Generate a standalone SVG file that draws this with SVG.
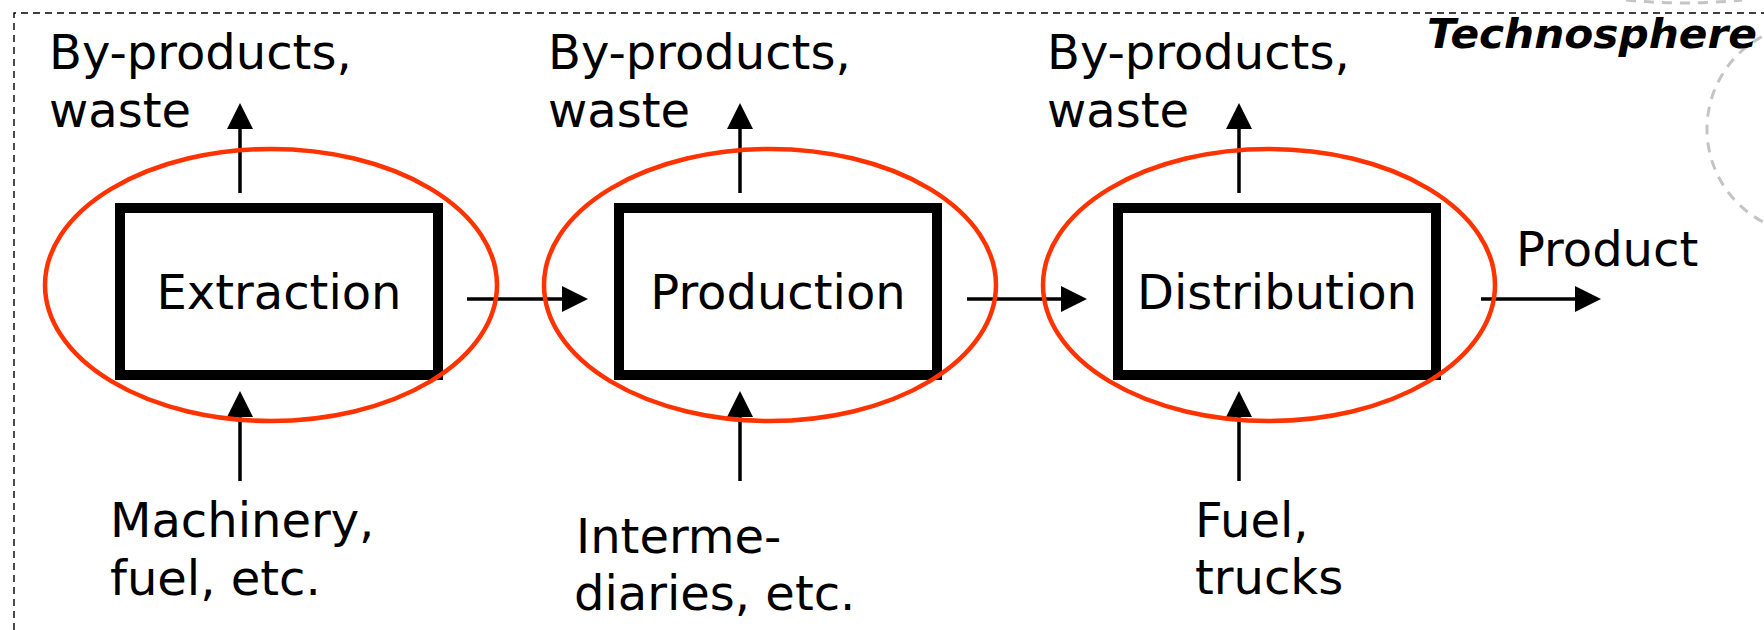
<svg xmlns="http://www.w3.org/2000/svg" width="1764" height="630" viewBox="0 0 1764 630">
  <style>
    .lbl { font-family: "DejaVu Sans", Verdana, sans-serif; font-size: 48px; fill: #000; }
    .box { fill: #fff; stroke: #000; stroke-width: 10; }
    .flow { stroke: #000; stroke-width: 3.5; fill: none; }
    .ring { fill: none; stroke: #ff3300; stroke-width: 4.5; }
    .frame { fill: none; stroke: #000; stroke-width: 1.4; stroke-dasharray: 7 5; }
    .sphere { fill: none; stroke: #c4c4c4; stroke-width: 3; stroke-dasharray: 10 8; }
    .title { font-family: "DejaVu Sans", Verdana, sans-serif; font-size: 40px; font-weight: bold; font-style: italic; fill: #000; }
  </style>
  <defs>
    <marker id="arrow" viewBox="0 0 26 26" refX="2" refY="13" markerWidth="26" markerHeight="26" markerUnits="userSpaceOnUse" orient="auto">
      <path d="M0,0 L26,13 L0,26 z" fill="#000"/>
    </marker>
  </defs>

  <rect width="1764" height="630" fill="#fff"/>

  <!-- system boundary -->
  <g id="boundary">
    <path class="frame" d="M14,630 V13 H1764"/>
    <path class="sphere" d="M1626,0 Q1684,6 1742,0"/>
    <circle class="sphere" cx="1812" cy="129" r="105"/>
    <text class="title" x="1757" y="48" text-anchor="end" textLength="330" lengthAdjust="spacingAndGlyphs">Technosphere</text>
  </g>

  <!-- process boxes -->
  <g id="extraction">
    <rect class="box" x="120" y="208" width="318" height="167"/>
    <text class="lbl" x="279" y="309" text-anchor="middle">Extraction</text>
  </g>
  <g id="production">
    <rect class="box" x="619" y="208" width="318" height="167"/>
    <text class="lbl" x="778" y="309" text-anchor="middle">Production</text>
  </g>
  <g id="distribution">
    <rect class="box" x="1118" y="208" width="318" height="167"/>
    <text class="lbl" x="1277" y="309" text-anchor="middle">Distribution</text>
  </g>

  <!-- flow labels -->
  <g id="waste-1">
    <text class="lbl" x="49" y="69">By-products,</text>
    <text class="lbl" x="49" y="127">waste</text>
  </g>
  <g id="waste-2">
    <text class="lbl" x="548" y="69">By-products,</text>
    <text class="lbl" x="548" y="127">waste</text>
  </g>
  <g id="waste-3">
    <text class="lbl" x="1047" y="69">By-products,</text>
    <text class="lbl" x="1047" y="127">waste</text>
  </g>
  <g id="input-1">
    <text class="lbl" x="110" y="537">Machinery,</text>
    <text class="lbl" x="110" y="595">fuel, etc.</text>
  </g>
  <g id="input-2">
    <text class="lbl" x="576" y="553">Interme-</text>
    <text class="lbl" x="574" y="610">diaries, etc.</text>
  </g>
  <g id="input-3">
    <text class="lbl" x="1195" y="537">Fuel,</text>
    <text class="lbl" x="1195" y="594">trucks</text>
  </g>
  <g id="product">
    <text class="lbl" x="1516" y="266">Product</text>
  </g>

  <!-- connectors -->
  <g id="connectors" marker-end="url(#arrow)">
    <line class="flow" x1="240" y1="193" x2="240" y2="127"/>
    <line class="flow" x1="740" y1="193" x2="740" y2="127"/>
    <line class="flow" x1="1239" y1="193" x2="1239" y2="127"/>
    <line class="flow" x1="240" y1="481" x2="240" y2="415"/>
    <line class="flow" x1="740" y1="481" x2="740" y2="415"/>
    <line class="flow" x1="1239" y1="481" x2="1239" y2="415"/>
    <line class="flow" x1="467" y1="299" x2="564" y2="299"/>
    <line class="flow" x1="967" y1="299" x2="1063" y2="299"/>
    <line class="flow" x1="1481" y1="299" x2="1577" y2="299"/>
  </g>

  <!-- process highlights -->
  <g id="highlights">
    <ellipse class="ring" cx="271" cy="285" rx="226" ry="136"/>
    <ellipse class="ring" cx="770" cy="285" rx="226" ry="136"/>
    <ellipse class="ring" cx="1269" cy="285" rx="226" ry="136"/>
  </g>
</svg>
